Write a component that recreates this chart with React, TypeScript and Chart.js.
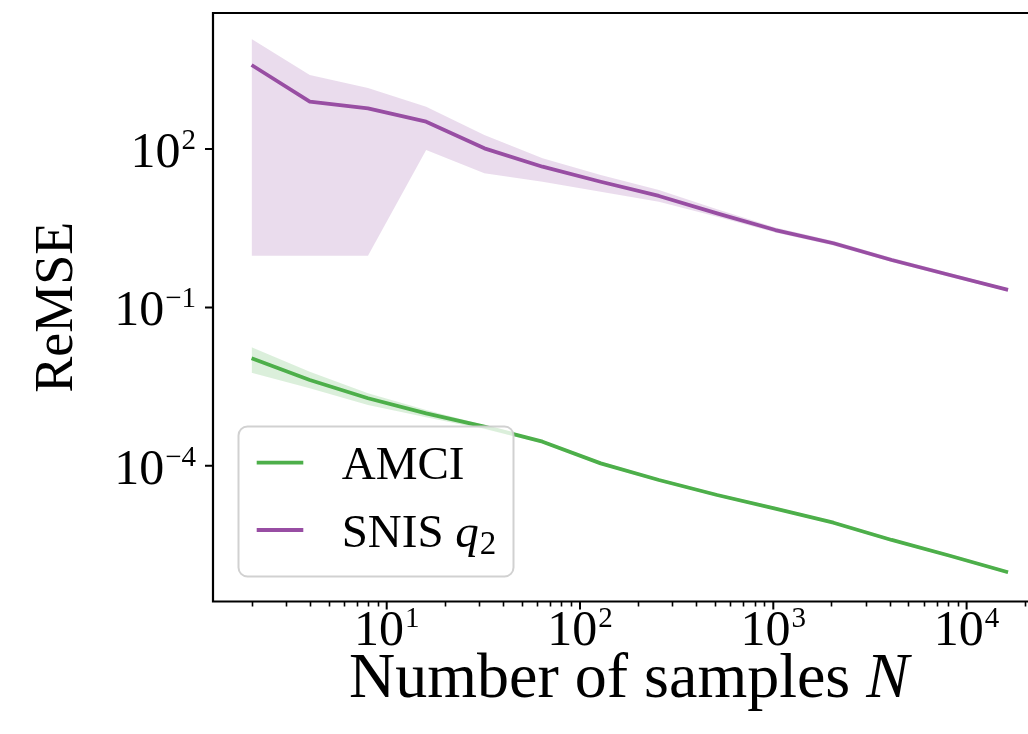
import React, { useEffect, useRef } from "react";
import { Chart, registerables } from "chart.js";

Chart.register(...registerables);

// ---- data ----
const sampleSizes = [2, 4, 8, 16, 32, 64, 128, 256, 512, 1024, 2048, 4096, 8192, 16384];

const amciMean = [0.01086, 0.00422, 0.0019, 0.000986, 0.000551, 0.000286, 0.000111, 5.38e-5, 2.8e-5, 1.55e-5, 8.36e-6, 3.94e-6, 1.98e-6, 9.62e-7];
const amciUpper = [0.01754, 0.00605, 0.00236, 0.00114, 0.000593, 0.000306, 0.000119, 5.77e-5, 3.0e-5, 1.66e-5, 8.95e-6, 4.22e-6, 2.12e-6, 1.03e-6];
const amciLower = [0.00579, 0.00294, 0.00142, 0.00083, 0.000491, 0.000267, 0.000104, 5.02e-5, 2.61e-5, 1.45e-5, 7.8e-6, 3.67e-6, 1.85e-6, 8.97e-7];

const snisMean = [3900, 787, 590, 329, 103, 46.2, 24.0, 12.9, 6.05, 2.92, 1.64, 0.791, 0.411, 0.214];
const snisUpper = [12100, 2520, 1430, 632, 184, 66.7, 32.2, 16.7, 7.21, 3.26, 1.81, 0.869, 0.449, 0.229];
const snisLower = [0.953, 0.953, 0.953, 95.7, 34.7, 24.0, 15.5, 10.0, 5.22, 2.62, 1.49, 0.724, 0.377, 0.2];

const seriesLabels = ["AMCI", "SNIS"];
const xTickExponents = [1, 2, 3, 4];
const yTickExponents = [2, -1, -4];
const minorMultipliers = [2, 3, 4, 5, 6, 7, 8, 9];
const xAxisTitle = "Number of samples ";
const xAxisTitleVar = "N";
const yAxisTitle = "ReMSE";

const X_MIN = 1.263;
const X_MAX = 20780;
const Y_MIN = 2.69e-7;
const Y_MAX = 37670;

// ---- styles ----
const GREEN = "#4daf4a";
const PURPLE = "#984ea3";
const GREEN_FILL = "rgba(77,175,74,0.2)";
const PURPLE_FILL = "rgba(152,78,163,0.2)";
const FONT = '"Liberation Serif", "Times New Roman", serif';
const TICK_SIZE = 50;
const EXP_SIZE = 29;
const LABEL_SIZE = 64;
const YLABEL_SIZE = 54;
const LEGEND_SIZE = 47;
const LINE_W = 3.8;

function drawPower(ctx: CanvasRenderingContext2D, exp: number, x: number, baseline: number, align: "center" | "right") {
  const expStr = exp < 0 ? "\u2212" + Math.abs(exp) : String(exp);
  ctx.font = `${TICK_SIZE}px ${FONT}`;
  const bw = ctx.measureText("10").width;
  ctx.font = `${EXP_SIZE}px ${FONT}`;
  const ew = ctx.measureText(expStr).width;
  const gap = 1;
  const total = bw + gap + ew;
  const left = align === "center" ? x - total / 2 : x - total;
  ctx.textAlign = "left";
  ctx.textBaseline = "alphabetic";
  ctx.font = `${TICK_SIZE}px ${FONT}`;
  ctx.fillText("10", left, baseline);
  ctx.font = `${EXP_SIZE}px ${FONT}`;
  ctx.fillText(expStr, left + bw + gap, baseline - 18);
}

const mplPlugin = {
  id: "mplAxes",
  afterDraw(chart: any) {
    const { ctx, chartArea: a, scales } = chart;
    const xs = scales.x;
    const ys = scales.y;
    ctx.save();
    ctx.fillStyle = "#000";
    ctx.strokeStyle = "#000";

    // spines
    ctx.lineWidth = 2.2;
    ctx.beginPath();
    ctx.moveTo(a.left, a.top);
    ctx.lineTo(a.right + 5, a.top);
    ctx.moveTo(a.left, a.top - 1);
    ctx.lineTo(a.left, a.bottom + 1);
    ctx.moveTo(a.left - 1, a.bottom);
    ctx.lineTo(a.right + 5, a.bottom);
    ctx.stroke();

    // x ticks
    ctx.lineWidth = 1.6;
    ctx.beginPath();
    for (let k = 0; k <= 4; k++) {
      for (const m of minorMultipliers) {
        const v = m * Math.pow(10, k);
        if (v < X_MIN || v > X_MAX) continue;
        const px = Math.round(xs.getPixelForValue(v)) + 0.5;
        ctx.moveTo(px, a.bottom);
        ctx.lineTo(px, a.bottom + 5);
      }
    }
    ctx.stroke();
    ctx.lineWidth = 2;
    ctx.beginPath();
    for (const e of xTickExponents) {
      const px = xs.getPixelForValue(Math.pow(10, e));
      ctx.moveTo(px, a.bottom);
      ctx.lineTo(px, a.bottom + 8);
    }
    for (const e of yTickExponents) {
      const py = ys.getPixelForValue(Math.pow(10, e));
      ctx.moveTo(a.left, py);
      ctx.lineTo(a.left - 8, py);
    }
    ctx.stroke();

    // tick labels
    for (const e of xTickExponents) {
      const px = xs.getPixelForValue(Math.pow(10, e));
      drawPower(ctx, e, px, a.bottom + 43, "center");
    }
    for (const e of yTickExponents) {
      const py = ys.getPixelForValue(Math.pow(10, e));
      drawPower(ctx, e, a.left - 17, py + 18, "right");
    }

    // x axis title
    ctx.font = `${LABEL_SIZE}px ${FONT}`;
    const w1 = ctx.measureText(xAxisTitle).width;
    ctx.font = `italic ${LABEL_SIZE}px ${FONT}`;
    const w2 = ctx.measureText(xAxisTitleVar).width;
    const cx = (a.left + 1045) / 2;
    const startX = cx - (w1 + w2) / 2;
    ctx.textAlign = "left";
    ctx.textBaseline = "alphabetic";
    ctx.font = `${LABEL_SIZE}px ${FONT}`;
    ctx.fillText(xAxisTitle, startX, 697);
    ctx.font = `italic ${LABEL_SIZE}px ${FONT}`;
    ctx.fillText(xAxisTitleVar, startX + w1, 697);

    // y axis title
    ctx.save();
    ctx.translate(72, (a.top + a.bottom) / 2);
    ctx.rotate(-Math.PI / 2);
    ctx.font = `${YLABEL_SIZE}px ${FONT}`;
    ctx.textAlign = "center";
    ctx.fillText(yAxisTitle, 0, 0);
    ctx.restore();

    // legend
    const lx = 238.5, ly = 426.5, lw = 275, lh = 150;
    ctx.beginPath();
    ctx.roundRect(lx, ly, lw, lh, 9);
    ctx.fillStyle = "rgba(255,255,255,0.8)";
    ctx.fill();
    ctx.strokeStyle = "rgba(204,204,204,0.9)";
    ctx.lineWidth = 2;
    ctx.stroke();

    const rows = [
      { color: GREEN, y: 462.7 },
      { color: PURPLE, y: 530 },
    ];
    ctx.lineWidth = LINE_W;
    for (const r of rows) {
      ctx.strokeStyle = r.color;
      ctx.beginPath();
      ctx.moveTo(256.7, r.y);
      ctx.lineTo(303.3, r.y);
      ctx.stroke();
    }
    ctx.fillStyle = "#000";
    ctx.textAlign = "left";
    ctx.font = `${LEGEND_SIZE}px ${FONT}`;
    ctx.fillText(seriesLabels[0], 341.7, rows[0].y + 16.5);
    const snisText = seriesLabels[1] + " ";
    ctx.fillText(snisText, 341.7, rows[1].y + 16.5);
    const sw = ctx.measureText(snisText).width;
    ctx.font = `italic ${LEGEND_SIZE}px ${FONT}`;
    ctx.fillText("q", 341.7 + sw, rows[1].y + 16.5);
    const qw = ctx.measureText("q").width;
    ctx.font = `${Math.round(LEGEND_SIZE * 0.7)}px ${FONT}`;
    ctx.fillText("2", 341.7 + sw + qw + 1, rows[1].y + 24);

    ctx.restore();
  },
};

function pts(arr: number[]) {
  return sampleSizes.map((n, i) => ({ x: n, y: arr[i] }));
}

export default function App() {
  const ref = useRef<HTMLCanvasElement | null>(null);
  useEffect(() => {
    document.body.style.margin = "0";
    const canvas = ref.current;
    if (!canvas) return;
    const band = (data: number[], fill: any, bg: string, order: number) => ({
      data: pts(data),
      borderColor: "transparent",
      borderWidth: 0,
      pointRadius: 0,
      fill,
      backgroundColor: bg,
      tension: 0,
      order,
    });
    const line = (label: string, data: number[], color: string) => ({
      label,
      data: pts(data),
      borderColor: color,
      borderWidth: LINE_W,
      pointRadius: 0,
      fill: false,
      tension: 0,
      borderJoinStyle: "round" as const,
      borderCapStyle: "butt" as const,
      order: 0,
    });
    const chart = new Chart(canvas, {
      type: "line",
      data: {
        datasets: [
          band(amciUpper, false, GREEN_FILL, 2),
          band(amciLower, "-1", GREEN_FILL, 2),
          line(seriesLabels[0], amciMean, GREEN),
          band(snisUpper, false, PURPLE_FILL, 1),
          band(snisLower, "-1", PURPLE_FILL, 1),
          line(seriesLabels[1], snisMean, PURPLE),
        ] as any,
      },
      options: {
        animation: false,
        responsive: false,
        events: [],
        layout: { padding: { left: 213, top: 13, right: 0, bottom: 132.5 } },
        plugins: { legend: { display: false }, tooltip: { enabled: false } },
        scales: {
          x: { type: "logarithmic", min: X_MIN, max: X_MAX, display: false },
          y: { type: "logarithmic", min: Y_MIN, max: Y_MAX, display: false },
        },
      },
      plugins: [mplPlugin],
    });
    return () => chart.destroy();
  }, []);
  return <canvas ref={ref} width={1028} height={734} style={{ display: "block" }} />;
}
